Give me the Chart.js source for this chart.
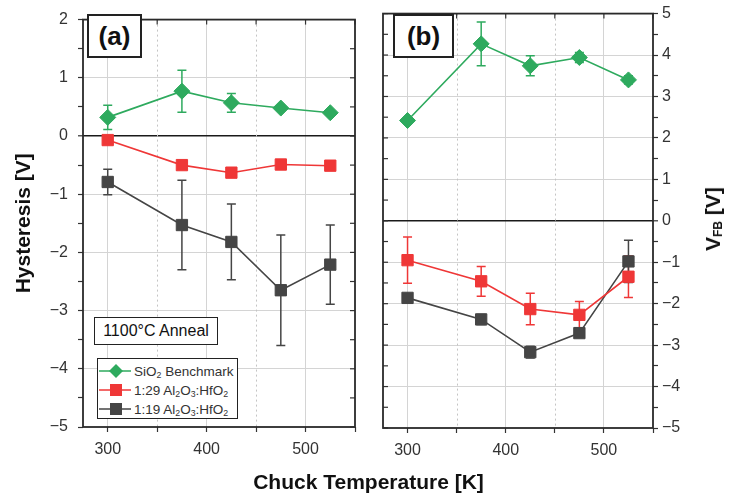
<!DOCTYPE html>
<html>
<head>
<meta charset="utf-8">
<script src="https://cdn.jsdelivr.net/npm/chart.js@4"></script>
<style>
  html, body { margin: 0; padding: 0; background: #fff; }
  #wrap { position: relative; width: 735px; height: 497px; overflow: hidden; font-family: "Liberation Sans", Arial, sans-serif; }
  canvas { position: absolute; top: 0; }
  .box { position: absolute; background: #fff; border: 1.5px solid #222; box-sizing: border-box; color: #111; }
  .tag { font-weight: bold; font-size: 26px; display: flex; align-items: center; justify-content: center; border-width: 2px; }
  .anneal { font-size: 16px; display: flex; align-items: center; justify-content: center; }
  .legend { font-size: 13.5px; color: #333; }
  .legend .row { position: absolute; left: 0; height: 18px; display: flex; align-items: center; }
  .legend svg { display: block; margin-left: 1px; margin-right: 3px; }
  sub { font-size: 0.65em; vertical-align: -0.25em; line-height: 0; }
  .xtitle { position: absolute; left: 0; width: 737px; top: 470px; text-align: center; font-weight: bold; font-size: 21px; color: #111; }
  .ytitle2 { position: absolute; left: 713px; top: 219px; transform: translate(-50%, -50%) rotate(-90deg); white-space: nowrap; font-weight: bold; font-size: 21px; color: #111; }
  .ytitle2 sub { font-size: 12px; vertical-align: -0.2em; }
</style>
</head>
<body>
<div id="wrap">
  <canvas id="cA" width="370" height="497" style="left:0"></canvas>
  <canvas id="cB" width="365" height="497" style="left:370px"></canvas>

  <div class="box tag" style="left:87px;top:14px;width:55px;height:44px;">(a)</div>
  <div class="box tag" style="left:393px;top:14px;width:61px;height:44px;">(b)</div>
  <div class="box anneal" style="left:94px;top:317px;width:124px;height:28px;">1100°C Anneal</div>
  <div class="box legend" style="left:97px;top:358px;width:141px;height:61px;">
    <div class="row" style="top:3px;"><svg width="32" height="18"><line x1="0" y1="9" x2="32" y2="9" stroke="#2eaa5e" stroke-width="1.5"/><polygon points="17,2 24,9 17,16 10,9" fill="#2eaa5e"/></svg><span>SiO<sub>2</sub> Benchmark</span></div>
    <div class="row" style="top:22px;"><svg width="32" height="18"><line x1="0" y1="9" x2="32" y2="9" stroke="#ef3737" stroke-width="1.5"/><rect x="11" y="3" width="12" height="12" fill="#ef3737"/></svg><span>1:29 Al<sub>2</sub>O<sub>3</sub>:HfO<sub>2</sub></span></div>
    <div class="row" style="top:41px;"><svg width="32" height="18"><line x1="0" y1="9" x2="32" y2="9" stroke="#454545" stroke-width="1.5"/><rect x="11" y="3" width="12" height="12" fill="#454545"/></svg><span>1:19 Al<sub>2</sub>O<sub>3</sub>:HfO<sub>2</sub></span></div>
  </div>
  <div class="xtitle">Chuck Temperature [K]</div>
  <div class="ytitle2">V<sub>FB</sub> [V]</div>
</div>
<script>
// ---- data ----
const temps = [300, 375, 425, 475, 525];
const seriesNames = ['SiO2 Benchmark', '1:29 Al2O3:HfO2', '1:19 Al2O3:HfO2'];
const seriesColors = ['#2eaa5e', '#ef3737', '#454545'];
const seriesShapes = ['rectRot', 'rect', 'rect'];

// panel (a): hysteresis [V]
const hystSiO2 = [0.32, 0.77, 0.57, 0.48, 0.40];
const hystSiO2Err = [0.21, 0.36, 0.16, 0, 0];
const hyst129 = [-0.07, -0.50, -0.63, -0.49, -0.51];
const hyst129Err = [0, 0, 0, 0, 0];
const hyst119 = [-0.79, -1.53, -1.82, -2.65, -2.21];
const hyst119Err = [0.22, 0.77, 0.65, 0.95, 0.68];

// panel (b): VFB [V]
const vfbSiO2 = [2.42, 4.27, 3.74, 3.94, 3.40];
const vfbSiO2Err = [0, 0.53, 0.24, 0.12, 0.10];
const vfb129 = [-0.95, -1.46, -2.13, -2.27, -1.35];
const vfb129Err = [0.56, 0.36, 0.38, 0.32, 0.50];
const vfb119 = [-1.86, -2.38, -3.17, -2.71, -0.98];
const vfb119Err = [0.10, 0.12, 0.14, 0.05, 0.51];

const xTicks = [300, 350, 400, 450, 500, 550];
const xLabeled = [300, 400, 500];
const xRange = [275, 550];
const yRangeA = [-5, 2];
const yRangeB = [-5, 5];

// ---- helpers ----
const FONT = '"Liberation Sans", Arial, sans-serif';
const fmt = v => (v < 0 ? '\u2212' + Math.abs(v) : String(v));

function datasets(vals) {
  return vals.map((v, i) => ({
    label: seriesNames[i],
    data: temps.map((t, j) => ({ x: t, y: v[j] })),
    borderColor: seriesColors[i],
    backgroundColor: seriesColors[i],
    pointBackgroundColor: seriesColors[i],
    pointBorderColor: seriesColors[i],
    pointStyle: seriesShapes[i],
    pointRadius: 8,
    pointBorderWidth: 1,
    borderWidth: 1.6,
    tension: 0
  }));
}

function decor(errs, mirror) {
  return {
    id: 'decor',
    beforeDatasetsDraw(chart) {
      const { ctx, chartArea: a, scales: { x, y } } = chart;
      ctx.save();
      // dotted minor vertical grid
      ctx.strokeStyle = '#c4c4c4';
      ctx.lineWidth = 1;
      ctx.setLineDash([2, 3]);
      x.ticks.forEach(t => {
        if (t.value % 100 !== 0 && t.value < xRange[1]) {
          const px = Math.round(x.getPixelForValue(t.value)) + 0.5;
          ctx.beginPath(); ctx.moveTo(px, a.top); ctx.lineTo(px, a.bottom); ctx.stroke();
        }
      });
      ctx.setLineDash([]);
      // error bars
      chart.data.datasets.forEach((ds, di) => {
        const e = errs[di];
        ctx.strokeStyle = ds.borderColor;
        ctx.lineWidth = 1.5;
        ds.data.forEach((p, i) => {
          if (!e[i]) return;
          const px = x.getPixelForValue(p.x);
          const y1 = y.getPixelForValue(p.y + e[i]);
          const y2 = y.getPixelForValue(p.y - e[i]);
          ctx.beginPath();
          ctx.moveTo(px, y1); ctx.lineTo(px, y2);
          ctx.moveTo(px - 4.5, y1); ctx.lineTo(px + 4.5, y1);
          ctx.moveTo(px - 4.5, y2); ctx.lineTo(px + 4.5, y2);
          ctx.stroke();
        });
      });
      ctx.restore();
    },
    afterDraw(chart) {
      const { ctx, chartArea: a, scales: { x, y } } = chart;
      ctx.save();
      ctx.strokeStyle = '#333';
      ctx.lineWidth = 1.2;
      // mirrored inward ticks
      y.ticks.forEach(t => {
        const py = y.getPixelForValue(t.value);
        ctx.beginPath();
        if (mirror === 'right') { ctx.moveTo(a.right, py); ctx.lineTo(a.right - 5, py); }
        else { ctx.moveTo(a.left, py); ctx.lineTo(a.left + 5, py); }
        ctx.stroke();
      });
      x.ticks.forEach(t => {
        const px = x.getPixelForValue(t.value);
        ctx.beginPath(); ctx.moveTo(px, a.top); ctx.lineTo(px, a.top + 5); ctx.stroke();
      });
      // frame
      ctx.lineWidth = 1.8;
      ctx.strokeStyle = '#2a2a2a';
      ctx.strokeRect(a.left, a.top, a.right - a.left, a.bottom - a.top);
      ctx.restore();
    }
  };
}

function xScale(height) {
  return {
    type: 'linear', min: xRange[0], max: xRange[1],
    afterBuildTicks: s => { s.ticks = xTicks.map(v => ({ value: v })); },
    afterFit: s => { s.height = height; },
    ticks: {
      stepSize: 50, autoSkip: false, maxRotation: 0, padding: 8,
      color: '#333', font: { family: FONT, size: 16 },
      callback: v => (xLabeled.includes(v) ? String(v) : '')
    },
    grid: {
      color: c => (c.tick && c.tick.value % 100 === 0 && c.tick.value < xRange[1] ? '#d4d4d4' : 'rgba(0,0,0,0)'),
      lineWidth: 1, tickColor: '#333', tickWidth: 1.2, tickLength: 5
    },
    border: { display: false }
  };
}

function yScale(range, pos, width, pad, title) {
  return {
    type: 'linear', position: pos, min: range[0], max: range[1],
    afterFit: s => { s.width = width; },
    ticks: {
      stepSize: 0.5, autoSkip: false, padding: pad,
      color: '#333', font: { family: FONT, size: 16 },
      callback: v => (Number.isInteger(v) ? fmt(v) : '')
    },
    grid: {
      color: c => {
        if (!c.tick) return 'rgba(0,0,0,0)';
        const v = c.tick.value;
        if (v === 0) return '#1a1a1a';
        if (Number.isInteger(v) && v !== range[0] && v !== range[1]) return '#d4d4d4';
        return 'rgba(0,0,0,0)';
      },
      lineWidth: c => (c.tick && c.tick.value === 0 ? 1.6 : 1),
      tickColor: '#333', tickWidth: 1.2, tickLength: 5
    },
    border: { display: false },
    title: title ? {
      display: true, text: title, color: '#111',
      font: { family: FONT, size: 21, weight: 'bold' },
      padding: { top: 12, bottom: 0 }
    } : { display: false }
  };
}

Chart.defaults.font.family = FONT;

new Chart(document.getElementById('cA'), {
  type: 'line',
  data: { datasets: datasets([hystSiO2, hyst129, hyst119]) },
  options: {
    responsive: false, animation: false,
    layout: { padding: { top: 13, right: 15, left: 0, bottom: 0 } },
    plugins: { legend: { display: false }, tooltip: { enabled: false } },
    scales: { x: xScale(70), y: yScale(yRangeA, 'left', 83, 10, 'Hysteresis [V]') }
  },
  plugins: [decor([hystSiO2Err, hyst129Err, hyst119Err], 'right')]
});

new Chart(document.getElementById('cB'), {
  type: 'line',
  data: { datasets: datasets([vfbSiO2, vfb129, vfb119]) },
  options: {
    responsive: false, animation: false,
    layout: { padding: { top: 12, right: 0, left: 13, bottom: 0 } },
    plugins: { legend: { display: false }, tooltip: { enabled: false } },
    scales: { x: xScale(69), y: yScale(yRangeB, 'right', 82, 4, null) }
  },
  plugins: [decor([vfbSiO2Err, vfb129Err, vfb119Err], 'left')]
});
</script>
</body>
</html>
